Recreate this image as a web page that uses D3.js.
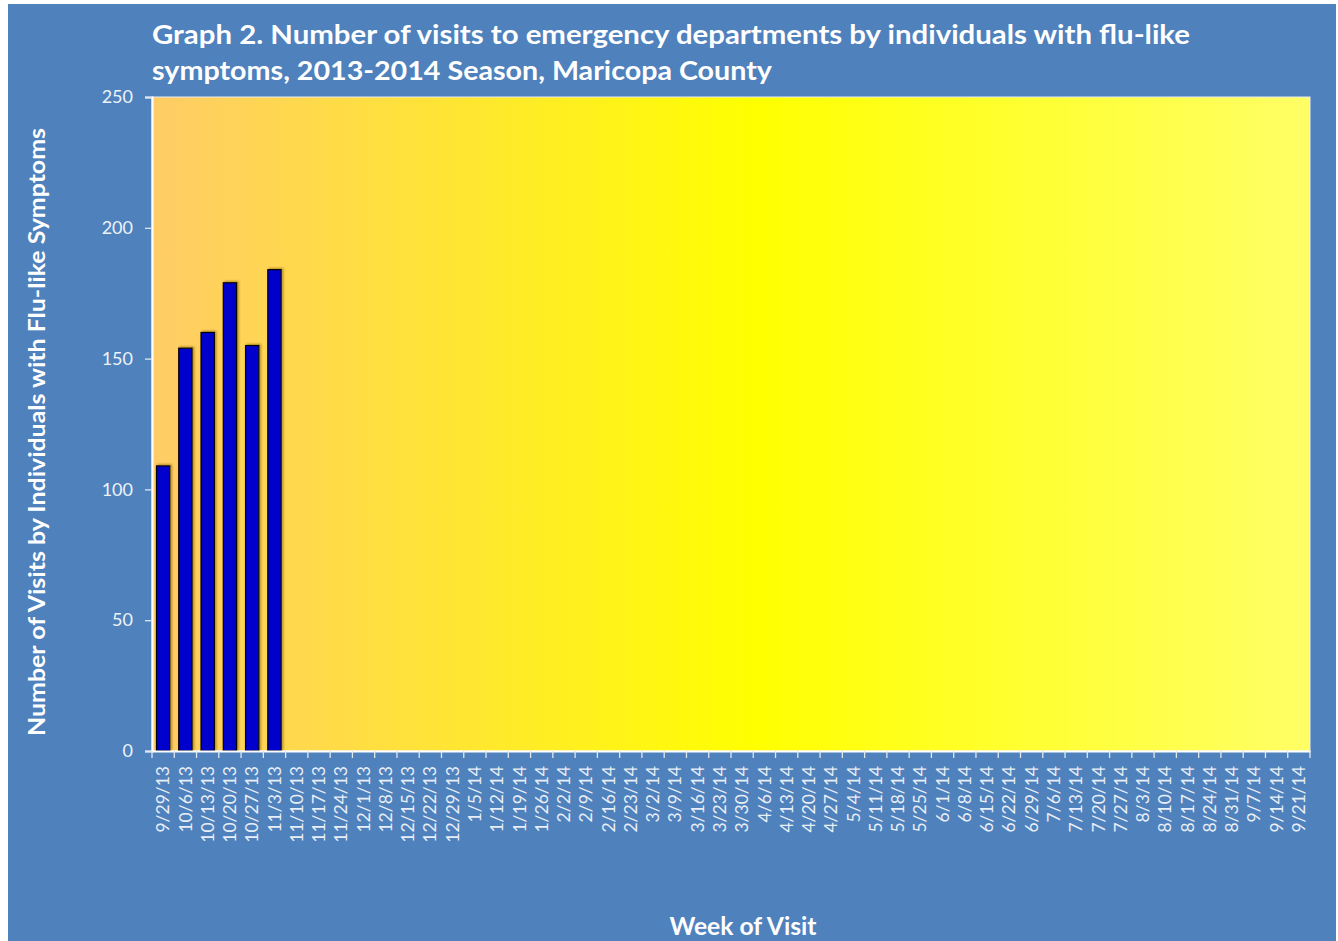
<!DOCTYPE html>
<html>
<head>
<meta charset="utf-8">
<script src="https://cdn.jsdelivr.net/npm/d3@7"></script>
<style>
  html, body { margin: 0; padding: 0; background: #ffffff; }
  svg { display: block; }
</style>
</head>
<body>
<svg id="chart" width="1338" height="941"></svg>
<script>
const categories = ["9/29/13","10/6/13","10/13/13","10/20/13","10/27/13","11/3/13","11/10/13","11/17/13","11/24/13","12/1/13","12/8/13","12/15/13","12/22/13","12/29/13","1/5/14","1/12/14","1/19/14","1/26/14","2/2/14","2/9/14","2/16/14","2/23/14","3/2/14","3/9/14","3/16/14","3/23/14","3/30/14","4/6/14","4/13/14","4/20/14","4/27/14","5/4/14","5/11/14","5/18/14","5/25/14","6/1/14","6/8/14","6/15/14","6/22/14","6/29/14","7/6/14","7/13/14","7/20/14","7/27/14","8/3/14","8/10/14","8/17/14","8/24/14","8/31/14","9/7/14","9/14/14","9/21/14"];
const visits = [109, 154, 160, 179, 155, 184];
const yTicks = [0, 50, 100, 150, 200, 250];
const titleLines = ["Graph 2. Number of visits to emergency departments by individuals with flu-like", "symptoms, 2013-2014 Season, Maricopa County"];
const yTitle = "Number of Visits by Individuals with Flu-like Symptoms";
const xTitle = "Week of Visit";

const svg = d3.select("#chart");
const W = 1338, H = 941;
const plot = {left: 152, right: 1310, top: 97, bottom: 751};
const font = "Lato, 'Open Sans', 'Liberation Sans', sans-serif";

// background
svg.append("rect").attr("x", 8).attr("y", 4).attr("width", W - 10).attr("height", H - 4).attr("fill", "#4F81BD");

// gradient
const defs = svg.append("defs");
const grad = defs.append("linearGradient").attr("id", "bg").attr("x1", "0%").attr("x2", "100%").attr("y1", "0%").attr("y2", "0%");
grad.append("stop").attr("offset", "0%").attr("stop-color", "#FFCC66");
grad.append("stop").attr("offset", "52%").attr("stop-color", "#FFFF00");
grad.append("stop").attr("offset", "100%").attr("stop-color", "#FFFF66");
const shadow = defs.append("filter").attr("id", "sh").attr("x", "-20%").attr("y", "-20%").attr("width", "150%").attr("height", "150%");
shadow.append("feDropShadow").attr("dx", 1.5).attr("dy", -1).attr("stdDeviation", 0.8).attr("flood-color", "#7a5a00").attr("flood-opacity", 0.6);

const x = d3.scaleBand().domain(categories).range([plot.left, plot.right]).paddingInner(0.4).paddingOuter(0.2);
const y = d3.scaleLinear().domain([0, 250]).range([plot.bottom, plot.top]);

svg.append("rect").attr("x", plot.left).attr("y", plot.top)
  .attr("width", plot.right - plot.left).attr("height", plot.bottom - plot.top)
  .attr("fill", "url(#bg)").attr("stroke", "#E8ECF2").attr("stroke-width", 1);

// bars
svg.append("g").selectAll("rect").data(visits).join("rect")
  .attr("x", (d, i) => x(categories[i]))
  .attr("y", d => y(d))
  .attr("width", x.bandwidth())
  .attr("height", d => y(0) - y(d))
  .attr("fill", "#0000CC")
  .attr("stroke", "#000000")
  .attr("stroke-width", 1.2)
  .attr("filter", "url(#sh)");

// y axis
const yAxis = d3.axisLeft(y).tickValues(yTicks).tickSize(7).tickPadding(12);
const gy = svg.append("g").attr("transform", `translate(${plot.left},0)`).call(yAxis);
gy.select(".domain").attr("stroke", "#FFFFFF").attr("stroke-width", 2);
gy.selectAll(".tick line").attr("stroke", "#E0E6EF").attr("stroke-width", 1.3);
gy.selectAll(".tick text").attr("fill", "#EEF2F8").attr("font-family", font).attr("font-size", 18);

// x axis
const xb = d3.scaleBand().domain(categories).range([plot.left, plot.right]);
const xAxis = d3.axisBottom(xb).tickSize(0).tickPadding(0);
const gx = svg.append("g").attr("transform", `translate(0,${plot.bottom})`).call(xAxis);
gx.select(".domain").attr("stroke", "#FFFFFF").attr("stroke-width", 2);
gx.selectAll(".tick text")
  .attr("fill", "#E8EEF6").attr("font-family", font).attr("font-size", 17.5)
  .attr("text-anchor", "end")
  .attr("transform", "rotate(-90)")
  .attr("x", -15).attr("y", 0).attr("dy", "0.35em");
// boundary tick marks
const bounds = categories.map(c => xb(c)).concat([plot.right]);
svg.append("g").selectAll("line").data(bounds).join("line")
  .attr("x1", d => d).attr("x2", d => d)
  .attr("y1", plot.bottom).attr("y2", plot.bottom + 7)
  .attr("stroke", "#E0E6EF").attr("stroke-width", 1.3);

// titles
svg.append("g").selectAll("text").data(titleLines).join("text")
  .attr("x", 152).attr("y", (d, i) => 44 + i * 36)
  .attr("fill", "#FFFFFF").attr("font-family", font).attr("font-weight", "bold").attr("font-size", 27)
  .attr("textLength", (d, i) => i === 0 ? 1038 : 620).attr("lengthAdjust", "spacingAndGlyphs")
  .text(d => d);

svg.append("text")
  .attr("transform", `translate(45,432) rotate(-90)`)
  .attr("text-anchor", "middle")
  .attr("fill", "#FFFFFF").attr("font-family", font).attr("font-weight", "bold").attr("font-size", 22)
  .attr("textLength", 608).attr("lengthAdjust", "spacingAndGlyphs")
  .text(yTitle);

svg.append("text")
  .attr("x", 743).attr("y", 935)
  .attr("text-anchor", "middle")
  .attr("fill", "#FFFFFF").attr("font-family", font).attr("font-weight", "bold").attr("font-size", 24)
  .attr("textLength", 147).attr("lengthAdjust", "spacingAndGlyphs")
  .text(xTitle);
</script>
</body>
</html>
